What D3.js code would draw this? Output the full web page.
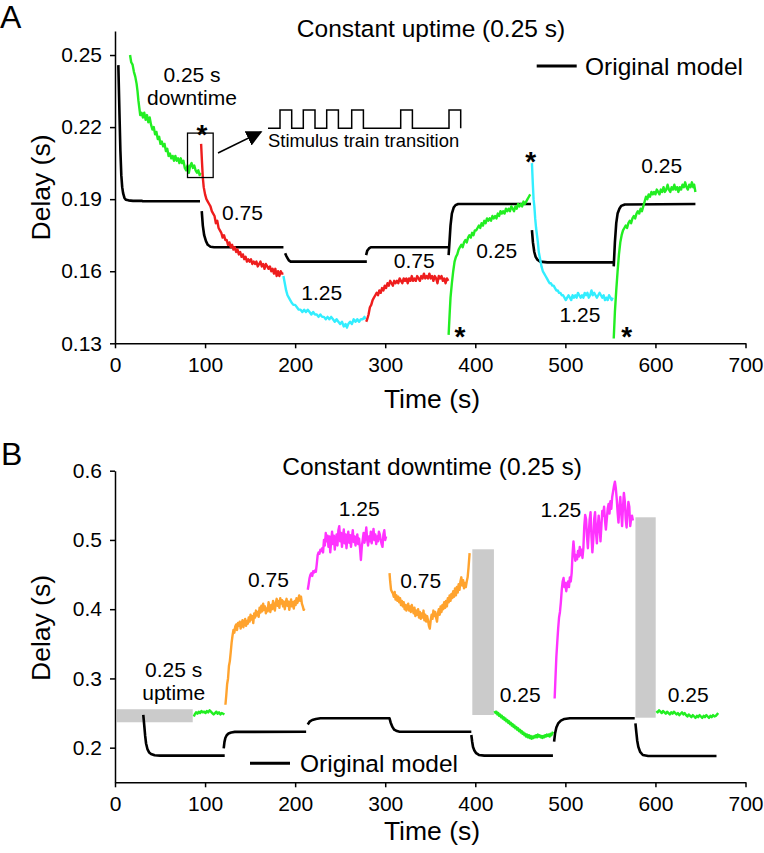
<!DOCTYPE html>
<html><head><meta charset="utf-8">
<script src="https://cdn.jsdelivr.net/npm/d3@7"></script>
<style>body{margin:0;background:#fff}svg{display:block}text{font-family:"Liberation Sans",Arial,sans-serif;fill:#000}</style>
</head><body><svg id="c" width="764" height="853"></svg>
<script>
// ---------- DATA ----------
const xTicks = [0,100,200,300,400,500,600,700];
const yTicksA = [0.13,0.16,0.19,0.22,0.25];
const yTicksB = [0.2,0.3,0.4,0.5,0.6];

// Panel A model (black)
const modelA1 = [[3.7,0.2458],[5,0.225],[6,0.210],[7,0.200],[8,0.195],[9,0.1925],[10.5,0.1905],[12,0.1898],[15,0.1895],[20,0.1893],[30,0.1893],[31,0.1891],[94.4,0.1891]];
const modelA2 = [[96.3,0.185],[97.5,0.179],[99,0.175],[101,0.1725],[103,0.171],[106,0.1702],[110,0.1700],[187,0.1700]];
const modelA3 = [[188.9,0.1675],[190,0.1665],[191.5,0.1655],[193,0.1645],[195,0.1640],[279.6,0.1640]];
const modelA4 = [[278.8,0.1667],[280,0.1685],[282,0.1695],[284,0.1700],[370.4,0.1700]];
const modelA5 = [[370.4,0.1667],[371.5,0.173],[372.5,0.179],[374,0.184],[376,0.1865],[378,0.1875],[381,0.188],[461.8,0.188]];
const modelA6 = [[462.9,0.1771],[464,0.172],[465.5,0.168],[467,0.166],[469,0.1648],[472,0.1640],[480,0.1637],[553.7,0.1637]];
const modelA7 = [[553.7,0.162],[555,0.172],[556.5,0.180],[558,0.184],[560,0.186],[562,0.1872],[566,0.1878],[644.4,0.1880]];

// Panel A measured data
const greenA1 = [[16.7,0.250],[18,0.247],[19.5,0.246],[21,0.243],[22.5,0.241],[24,0.238],[25,0.235],[26,0.231],[27,0.228],[28,0.225],[29.5,0.226],[31,0.224],[32.5,0.226],[34,0.223],[35.5,0.225],[37,0.222],[38.5,0.224],[40,0.221],[41.5,0.219],[43,0.220],[44.5,0.217],[46,0.218],[47.5,0.215],[49,0.216],[50.5,0.213],[52,0.214],[53.5,0.212],[55,0.213],[56.5,0.210],[58,0.211],[59.5,0.208],[61,0.209],[62.5,0.207],[64,0.208],[65.5,0.206],[67,0.208],[68.5,0.206],[70,0.207],[71.5,0.205],[73,0.207],[74.5,0.205],[76,0.206],[77.5,0.203],[79,0.202],[80.5,0.204],[82,0.201],[83.5,0.204],[85,0.205],[86.5,0.203],[88,0.204],[89.5,0.202],[91,0.201],[92.5,0.202],[94,0.200],[95,0.201]];
const redA2 = [[95.6,0.213],[96.5,0.206],[97.5,0.199],[98.5,0.195],[100,0.192],[101.5,0.190],[103,0.189],[104.5,0.188],[106,0.187],[107.5,0.185],[109,0.184],[110.5,0.183],[112,0.180],[113.5,0.181],[115,0.178],[116.5,0.177],[118,0.176],[119.5,0.174],[121,0.175],[122.5,0.173],[124,0.173],[125.5,0.171],[127,0.172],[128.5,0.170],[130,0.171],[131.5,0.169],[133,0.170],[134.5,0.168],[136,0.169],[137.5,0.167],[139,0.168],[140.5,0.166],[142,0.167],[143.5,0.165],[145,0.166],[146.5,0.164],[148,0.165],[149.5,0.164],[151,0.165],[152.5,0.163],[154,0.164],[155.5,0.163],[157,0.164],[158.5,0.162],[160,0.163],[161.5,0.164],[163,0.162],[164.5,0.163],[166,0.161],[167.5,0.163],[169,0.162],[170.5,0.161],[172,0.162],[173.5,0.160],[175,0.161],[176.5,0.159],[178,0.161],[179.5,0.158],[181,0.160],[182.5,0.158],[184,0.160],[185.5,0.159],[187,0.159]];
const cyanA3 = [[187,0.158],[188.5,0.155],[190,0.152],[191.5,0.150],[193,0.149],[194.5,0.148],[196,0.147],[198,0.146],[200,0.146],[202,0.145],[204,0.144],[206,0.144],[208,0.143],[210,0.144],[212,0.143],[214,0.144],[216,0.143],[218,0.142],[220,0.143],[222,0.142],[224,0.142],[226,0.141],[228,0.142],[230,0.141],[232,0.141],[234,0.140],[236,0.141],[238,0.140],[240,0.141],[242,0.140],[244,0.139],[246,0.140],[248,0.139],[250,0.138],[252,0.139],[254,0.137],[256,0.138],[257.5,0.1365],[259,0.138],[261,0.139],[263,0.138],[265,0.140],[267,0.139],[269,0.140],[271,0.139],[273,0.140],[275,0.140],[277,0.141],[278,0.140]];
const redA4 = [[278.9,0.139],[280,0.140],[281.5,0.142],[283,0.145],[284.5,0.146],[286,0.148],[287.5,0.149],[289,0.150],[290.5,0.151],[292,0.150],[293.5,0.152],[295,0.151],[296.5,0.153],[298,0.152],[299.5,0.154],[301,0.153],[302.5,0.155],[304,0.154],[305.5,0.156],[307,0.155],[308.5,0.154],[310,0.156],[311.5,0.155],[313,0.156],[314.5,0.155],[316,0.157],[317.5,0.156],[319,0.155],[320.5,0.157],[322,0.156],[323.5,0.157],[325,0.155],[326.5,0.157],[328,0.156],[329.5,0.158],[331,0.156],[332.5,0.157],[334,0.156],[335.5,0.158],[337,0.157],[338.5,0.156],[340,0.158],[341.5,0.157],[343,0.159],[344.5,0.157],[346,0.158],[347.5,0.157],[349,0.159],[350.5,0.157],[352,0.158],[353.5,0.156],[355,0.158],[356.5,0.157],[358,0.155],[359.5,0.158],[361,0.157],[362.5,0.158],[364,0.156],[365.5,0.157],[367,0.155],[368.5,0.157],[370,0.156]];
const greenA5 = [[370.4,0.1335],[371.5,0.142],[372.5,0.149],[374,0.155],[375.5,0.160],[377,0.164],[378.5,0.166],[380,0.167],[381.5,0.169],[383,0.170],[384.5,0.171],[386,0.170],[387.5,0.172],[389,0.173],[390.5,0.172],[392,0.174],[393.5,0.175],[395,0.174],[396.5,0.176],[398,0.175],[399.5,0.177],[401,0.177],[402.5,0.178],[404,0.179],[405.5,0.178],[407,0.180],[408.5,0.179],[410,0.181],[411.5,0.180],[413,0.182],[414.5,0.181],[416,0.182],[417.5,0.181],[419,0.183],[420.5,0.182],[422,0.183],[423.5,0.182],[425,0.184],[426.5,0.183],[428,0.185],[429.5,0.184],[431,0.185],[432.5,0.184],[434,0.186],[435.5,0.185],[437,0.186],[438.5,0.185],[440,0.187],[441.5,0.186],[443,0.185],[444.5,0.187],[446,0.186],[447.5,0.188],[449,0.187],[450.5,0.188],[452,0.187],[453.5,0.189],[455,0.188],[456.5,0.189],[458,0.190],[459.5,0.191],[461,0.192]];
const cyanA6 = [[462.9,0.205],[463.8,0.197],[464.7,0.190],[465.6,0.187],[466.5,0.182],[467.5,0.178],[468.5,0.175],[469.5,0.172],[470.5,0.168],[472,0.165],[473.5,0.162],[475,0.160],[476.5,0.159],[478,0.158],[479.5,0.157],[481,0.156],[482.5,0.155],[484,0.155],[485.5,0.154],[487,0.154],[488.5,0.153],[490,0.152],[491.5,0.152],[493,0.151],[494.5,0.151],[496,0.150],[497.5,0.150],[499,0.149],[500.5,0.148],[502,0.149],[503.5,0.150],[505,0.149],[506.5,0.148],[508,0.150],[509.5,0.149],[511,0.150],[512.5,0.149],[514,0.151],[515.5,0.150],[517,0.149],[518.5,0.150],[520,0.149],[521.5,0.151],[523,0.150],[524.5,0.151],[526,0.149],[527.5,0.150],[529,0.152],[530.5,0.150],[532,0.151],[533.5,0.150],[535,0.149],[536.5,0.150],[538,0.151],[539.5,0.150],[541,0.149],[542.5,0.150],[544,0.148],[545.5,0.149],[547,0.148],[548.5,0.150],[550,0.149],[551.5,0.148],[552.6,0.149]];
const greenA7 = [[553.7,0.132],[555,0.143],[556.5,0.152],[558,0.160],[559.5,0.167],[561,0.172],[562.5,0.175],[564,0.177],[565.5,0.178],[567,0.179],[568.5,0.178],[570,0.180],[571.5,0.181],[573,0.180],[574.5,0.182],[576,0.183],[577.5,0.182],[579,0.184],[580.5,0.185],[582,0.184],[583.5,0.186],[585,0.185],[586.5,0.187],[588,0.189],[589.5,0.191],[591,0.190],[592.5,0.192],[594,0.191],[595.5,0.193],[597,0.192],[598.5,0.193],[600,0.192],[601.5,0.194],[603,0.193],[604.5,0.192],[606,0.194],[607.5,0.193],[609,0.195],[610.5,0.193],[612,0.194],[613.5,0.196],[615,0.194],[616.5,0.193],[618,0.195],[619.5,0.194],[621,0.196],[622.5,0.194],[624,0.195],[625.5,0.193],[627,0.195],[628.5,0.194],[630,0.196],[631.5,0.195],[633,0.197],[634.5,0.195],[636,0.194],[637.5,0.196],[639,0.195],[640.5,0.197],[642,0.195],[643,0.196],[644.4,0.193]];

// Panel B model (black)
const modelB1 = [[31.4,0.2472],[32.5,0.232],[33.5,0.217],[34.5,0.206],[36,0.198],[38,0.193],[40,0.1909],[44,0.189],[50,0.1885],[121.8,0.1885]];
const modelB2 = [[120.7,0.199],[121.5,0.208],[122.5,0.214],[124,0.218],[126,0.2205],[129,0.222],[133,0.2228],[212.2,0.2231]];
const modelB3 = [[214,0.2335],[216,0.2375],[219,0.240],[223,0.2415],[228,0.2424],[304.8,0.2424],[306,0.2365],[308,0.230],[310,0.226],[313,0.224],[316,0.2231],[395.6,0.2231]];
const modelB4 = [[395.6,0.2183],[396.5,0.209],[397.5,0.201],[399,0.196],[401,0.192],[404,0.1895],[410,0.1885],[486.2,0.1885]];
const modelB5 = [[487.5,0.2087],[488.5,0.220],[490,0.229],[492,0.235],[495,0.239],[499,0.2415],[505,0.2424],[577,0.2424]];
const modelB6 = [[577.8,0.2352],[578.8,0.222],[579.8,0.210],[581,0.2014],[583,0.194],[586,0.1894],[592,0.188],[667.8,0.188]];

// Panel B grey rest blocks: [tStart, tEnd, vLow, vHigh]
const greyBlocksB = [[2,86.3,0.2367,0.2555],[396.7,420.7,0.2472,0.4865],[577.8,600.3,0.2433,0.5327]];

// Panel B measured data
const greenB1 = [[87.5,0.245],[88.5,0.248],[90,0.251],[91.5,0.249],[93,0.252],[94.5,0.250],[96,0.253],[97.5,0.251],[99,0.252],[100.5,0.250],[102,0.253],[103.5,0.251],[105,0.254],[106.5,0.252],[108,0.250],[109.5,0.248],[111,0.250],[112.5,0.252],[114,0.249],[115.5,0.251],[117,0.248],[118.5,0.250],[120,0.249],[121.5,0.248]];
const orangeB2 = [[122.6,0.262],[123.5,0.275],[124.5,0.292],[125.5,0.300],[126.5,0.318],[127.5,0.325],[128.5,0.338],[129.5,0.352],[130.5,0.362],[131.5,0.370],[132.5,0.366],[133.5,0.375],[134.5,0.378],[135.5,0.370],[136.5,0.380],[137.5,0.376],[138.5,0.382],[139.5,0.372],[140.5,0.378],[141.5,0.384],[142.5,0.374],[143.5,0.380],[144.5,0.386],[145.5,0.376],[146.5,0.383],[147.5,0.379],[148.5,0.388],[149.5,0.382],[150.5,0.392],[151.5,0.385],[152.5,0.390],[153.5,0.380],[154.5,0.394],[155.5,0.388],[156.5,0.398],[157.5,0.391],[158.5,0.396],[159.5,0.389],[160.5,0.402],[161.5,0.395],[162.5,0.405],[163.5,0.397],[164.5,0.408],[165.5,0.399],[166.5,0.404],[167.5,0.394],[168.5,0.401],[169.5,0.397],[170.5,0.410],[171.5,0.402],[172.5,0.396],[173.5,0.406],[174.5,0.400],[175.5,0.412],[176.5,0.404],[177.5,0.398],[178.5,0.409],[179.5,0.415],[180.5,0.405],[181.5,0.412],[182.5,0.402],[183.5,0.416],[184.5,0.408],[185.5,0.413],[186.5,0.404],[187.5,0.411],[188.5,0.400],[189.5,0.409],[190.5,0.415],[191.5,0.405],[192.5,0.411],[193.5,0.399],[194.5,0.408],[195.5,0.414],[196.5,0.404],[197.5,0.410],[198.5,0.401],[199.5,0.412],[200.5,0.406],[201.5,0.416],[202.5,0.409],[203.5,0.413],[204.5,0.420],[205.5,0.412],[206.5,0.418],[207.5,0.408],[208.5,0.404],[209.5,0.399],[210.3,0.401]];
const magentaB3 = [[214,0.428],[215,0.436],[216,0.445],[217,0.450],[218,0.452],[219,0.448],[220,0.455],[221,0.453],[222,0.456],[223,0.454],[224,0.465],[225,0.478],[226,0.482],[227,0.480],[228,0.486],[229,0.484],[230,0.488],[231,0.482],[232,0.500],[233,0.492],[234,0.510],[235,0.498],[236,0.506],[237,0.490],[238,0.505],[239,0.482],[240,0.498],[241,0.512],[242,0.494],[243,0.506],[244,0.486],[245,0.500],[246,0.508],[247,0.492],[248,0.514],[249,0.520],[250,0.498],[251,0.510],[252,0.490],[253,0.505],[254,0.515],[255,0.495],[256,0.508],[257,0.488],[258,0.502],[259,0.512],[260,0.496],[261,0.507],[262,0.490],[263,0.503],[264,0.514],[265,0.497],[266,0.505],[267,0.492],[268,0.500],[269,0.508],[270,0.494],[271,0.502],[272,0.488],[273,0.471],[274,0.490],[275,0.500],[276,0.510],[277,0.496],[278,0.506],[279,0.518],[280,0.500],[281,0.492],[282,0.505],[283,0.498],[284,0.512],[285,0.495],[286,0.504],[287,0.516],[288,0.500],[289,0.508],[290,0.494],[291,0.505],[292,0.498],[293,0.512],[294,0.508],[295,0.500],[296,0.494],[297,0.490],[298,0.508],[299,0.514],[300,0.500],[301,0.505]];
const orangeB4 = [[304.8,0.452],[305.5,0.440],[306.5,0.428],[307.5,0.425],[308.5,0.423],[309.5,0.418],[310.5,0.425],[311.5,0.414],[312.5,0.420],[313.5,0.412],[314.5,0.418],[315.5,0.410],[316.5,0.416],[317.5,0.406],[318.5,0.412],[319.5,0.404],[320.5,0.410],[321.5,0.400],[322.5,0.406],[323.5,0.398],[324.5,0.404],[325.5,0.408],[326.5,0.398],[327.5,0.404],[328.5,0.396],[329.5,0.406],[330.5,0.400],[331.5,0.394],[332.5,0.402],[333.5,0.390],[334.5,0.398],[335.5,0.392],[336.5,0.400],[337.5,0.388],[338.5,0.396],[339.5,0.386],[340.5,0.394],[341.5,0.388],[342.5,0.398],[343.5,0.384],[344.5,0.392],[345.5,0.382],[346.5,0.390],[347.5,0.384],[348.5,0.376],[349.5,0.372],[350.5,0.384],[351.5,0.392],[352.5,0.386],[353.5,0.398],[354.5,0.390],[355.5,0.396],[356.5,0.388],[357.5,0.382],[358.5,0.394],[359.5,0.400],[360.5,0.392],[361.5,0.404],[362.5,0.396],[363.5,0.406],[364.5,0.400],[365.5,0.410],[366.5,0.402],[367.5,0.412],[368.5,0.404],[369.5,0.416],[370.5,0.410],[371.5,0.420],[372.5,0.412],[373.5,0.422],[374.5,0.416],[375.5,0.426],[376.5,0.418],[377.5,0.430],[378.5,0.420],[379.5,0.432],[380.5,0.424],[381.5,0.436],[382.5,0.428],[383.5,0.440],[384.5,0.446],[385.5,0.434],[386.5,0.442],[387.5,0.430],[388.5,0.438],[389.5,0.432],[390.5,0.440],[391.5,0.446],[392.5,0.460],[393.7,0.481]];
const greenB5 = [[421.4,0.253],[422.5,0.250],[423.5,0.252],[424.5,0.248],[425.5,0.250],[426.5,0.246],[427.5,0.248],[428.5,0.244],[429.5,0.246],[430.5,0.242],[431.5,0.244],[432.5,0.240],[433.5,0.242],[434.5,0.238],[435.5,0.240],[436.5,0.236],[437.5,0.238],[438.5,0.234],[439.5,0.236],[440.5,0.232],[441.5,0.234],[442.5,0.230],[443.5,0.232],[444.5,0.228],[445.5,0.230],[446.5,0.226],[447.5,0.228],[448.5,0.224],[449.5,0.226],[450.5,0.222],[451.5,0.224],[452.5,0.220],[453.5,0.222],[454.5,0.218],[455.5,0.220],[456.5,0.216],[457.5,0.219],[458.5,0.215],[459.5,0.218],[460.5,0.214],[461.5,0.217],[462.5,0.213],[463.5,0.216],[464.5,0.214],[465.5,0.217],[466.5,0.215],[467.5,0.218],[468.5,0.215],[469.5,0.219],[470.5,0.216],[471.5,0.218],[472.5,0.215],[473.5,0.217],[474.5,0.214],[475.5,0.217],[476.5,0.215],[477.5,0.218],[478.5,0.216],[479.5,0.219],[480.5,0.217],[481.5,0.219],[482.5,0.216],[483.5,0.220],[484.5,0.218],[485.5,0.221],[486.3,0.223]];
const magentaB6 = [[488.1,0.271],[489,0.300],[490,0.331],[491,0.352],[492,0.372],[493,0.388],[494,0.396],[495,0.410],[496,0.428],[497,0.440],[498,0.445],[499,0.432],[500,0.438],[501,0.426],[502,0.436],[503,0.440],[504,0.432],[505,0.446],[506,0.440],[507,0.452],[508,0.480],[509,0.498],[510,0.482],[511,0.470],[512,0.478],[513,0.472],[514,0.484],[515,0.476],[516,0.490],[517,0.478],[518,0.486],[519,0.474],[520,0.488],[521,0.520],[522,0.536],[523,0.530],[524,0.505],[525,0.488],[526,0.510],[527,0.530],[528,0.540],[529,0.505],[530,0.482],[531,0.500],[532,0.530],[533,0.540],[534,0.510],[535,0.495],[536,0.520],[537,0.535],[538,0.518],[539,0.498],[540,0.520],[541,0.542],[542,0.535],[543,0.548],[544,0.528],[545,0.515],[546,0.530],[547,0.545],[548,0.552],[549,0.538],[550,0.556],[551,0.545],[552,0.562],[553,0.570],[554,0.578],[555,0.584],[556,0.575],[557,0.560],[558,0.540],[559,0.525],[560,0.548],[561,0.562],[562,0.540],[563,0.520],[564,0.548],[565,0.568],[566,0.556],[567,0.530],[568,0.518],[569,0.540],[570,0.555],[571,0.548],[572,0.520],[573,0.530],[574,0.535],[575,0.528]];
const greenB7 = [[601.1,0.253],[602.5,0.251],[604,0.254],[605.5,0.252],[607,0.250],[608.5,0.253],[610,0.251],[611.5,0.249],[613,0.252],[614.5,0.250],[616,0.248],[617.5,0.251],[619,0.249],[620.5,0.252],[622,0.250],[623.5,0.248],[625,0.250],[626.5,0.247],[628,0.249],[629.5,0.251],[631,0.248],[632.5,0.250],[634,0.247],[635.5,0.245],[637,0.248],[638.5,0.246],[640,0.244],[641.5,0.247],[643,0.245],[644.5,0.243],[646,0.246],[647.5,0.244],[649,0.247],[650.5,0.245],[652,0.243],[653.5,0.246],[655,0.244],[656.5,0.247],[658,0.245],[659.5,0.243],[661,0.246],[662.5,0.244],[664,0.247],[665.5,0.245],[667,0.246],[668.5,0.248],[669.6,0.250]];

// Annotation labels: [text, t, value at baseline]
const labelsA = [["0.75",141.6,0.1813],["1.25",229.5,0.148],["0.75",332.2,0.1612],["0.25",423.7,0.1654],["1.25",516.3,0.139],["0.25",607,0.2008],["0.25 s",85.5,0.2388],["downtime",85.5,0.2292]];
const starsA = [[96.6,0.2196],[461.4,0.2084],[383,0.1355],[568.1,0.1355]];
const labelsB = [["0.25 s",65.2,0.3025],["uptime",65.2,0.2689],["0.75",170.3,0.4325],["1.25",271.1,0.5346],["0.75",339.5,0.4302],["1.25",495,0.5336],["0.25",449.8,0.2664],["0.25",636.4,0.2664]];
const colors = {green:"#22ee22",red:"#ee1d1d",cyan:"#33eeff",orange:"#ffa32e",magenta:"#ff33ff",grey:"#cbcbcb"};

// ---------- DRAW ----------
const svg = d3.select("#c");
const FONT = '"Liberation Sans",Arial,sans-serif';

function panel(opt){
  const x = d3.scaleLinear().domain([0,700]).range([115,745.5]);
  const y = d3.scaleLinear().domain(opt.yDomain).range(opt.yRange);
  const g = svg.append("g");
  const line = d3.line().x(d=>x(d[0])).y(d=>y(d[1]));
  (opt.blocks||[]).forEach(b=>{
    g.append("rect").attr("x",x(b[0])).attr("width",x(b[1])-x(b[0]))
     .attr("y",y(b[3])).attr("height",y(b[2])-y(b[3])).attr("fill",colors.grey);
  });
  opt.series.forEach(s=>{
    g.append("path").datum(s.data).attr("d",line).attr("fill","none")
     .attr("stroke",s.color).attr("stroke-width",s.w).attr("stroke-linejoin","round");
  });
  const ax = g.append("g").attr("transform",`translate(0,${opt.yRange[0]})`)
    .call(d3.axisBottom(x).tickValues(xTicks).tickFormat(d3.format("d")).tickSize(5).tickSizeOuter(0).tickPadding(9));
  const ay = g.append("g").attr("transform",`translate(115,0)`)
    .call(d3.axisLeft(y).tickValues(opt.yTicks).tickFormat(opt.fmt).tickSize(5).tickSizeOuter(0).tickPadding(8));
  [ax,ay].forEach(a=>{
    a.selectAll("path,line").attr("stroke","#000").attr("stroke-width",1.5);
    a.selectAll("text").attr("font-size",21).attr("font-family",FONT).attr("fill","#000");
  });
  return {x,y,g};
}

// Panel A
const A = panel({yDomain:[0.13,0.26],yRange:[343.3,31],yTicks:yTicksA,fmt:d3.format(".2f"),
  series:[
    {data:modelA1,color:"#000",w:2.6},{data:modelA2,color:"#000",w:2.6},{data:modelA3,color:"#000",w:2.6},
    {data:modelA4,color:"#000",w:2.6},{data:modelA5,color:"#000",w:2.6},{data:modelA6,color:"#000",w:2.6},{data:modelA7,color:"#000",w:2.6},
    {data:greenA1,color:colors.green,w:2.4},{data:redA2,color:colors.red,w:2.4},{data:cyanA3,color:colors.cyan,w:2.4},
    {data:redA4,color:colors.red,w:2.4},{data:greenA5,color:colors.green,w:2.4},{data:cyanA6,color:colors.cyan,w:2.4},{data:greenA7,color:colors.green,w:2.4}
  ]});
labelsA.forEach(l=>{
  A.g.append("text").attr("x",A.x(l[1])).attr("y",A.y(l[2])).attr("text-anchor","middle")
   .attr("font-size",21).text(l[0]);
});
starsA.forEach(s=>{
  A.g.append("text").attr("x",A.x(s[0])).attr("y",A.y(s[1])).attr("text-anchor","middle")
   .attr("font-size",28).attr("font-weight","bold").attr("dy","0.57em").text("*");
});
A.g.append("rect").attr("x",A.x(80.5)).attr("y",A.y(0.2175)).attr("width",A.x(109)-A.x(80.5))
  .attr("height",A.y(0.199)-A.y(0.2175)).attr("fill","none").attr("stroke","#000").attr("stroke-width",1.3);
svg.append("defs").append("marker").attr("id","ah").attr("viewBox","0 0 10 10").attr("refX",9).attr("refY",5)
  .attr("markerWidth",16).attr("markerHeight",16).attr("markerUnits","userSpaceOnUse").attr("orient","auto")
  .append("path").attr("d","M0,0L10,5L0,10Z").attr("fill","#000");
A.g.append("line").attr("x1",218).attr("y1",153).attr("x2",261).attr("y2",132)
  .attr("stroke","#000").attr("stroke-width",1.5).attr("marker-end","url(#ah)");
(function(){
  const rises = [280,303.3,326.7,351.7,400.7,449];
  const width = 11.7, lo = 128.3, hi = 110;
  let p = "M268,"+lo;
  rises.forEach(r=>{ p += `L${r},${lo}L${r},${hi}L${r+width},${hi}L${r+width},${lo}`; });
  A.g.append("path").attr("d",p).attr("fill","none").attr("stroke","#000").attr("stroke-width",1.5);
  A.g.append("text").attr("x",268).attr("y",147).attr("font-size",18.4).text("Stimulus train transition");
})();
A.g.append("text").attr("x",431).attr("y",37).attr("text-anchor","middle").attr("font-size",24.5).text("Constant uptime (0.25 s)");
A.g.append("line").attr("x1",536.7).attr("x2",576.7).attr("y1",66).attr("y2",66).attr("stroke","#000").attr("stroke-width",3);
A.g.append("text").attr("x",585).attr("y",75).attr("font-size",24.5).text("Original model");
A.g.append("text").attr("transform","translate(50,187.5) rotate(-90)").attr("text-anchor","middle").attr("font-size",26.5).text("Delay (s)");
A.g.append("text").attr("x",432).attr("y",408).attr("text-anchor","middle").attr("font-size",26.5).text("Time (s)");
svg.append("text").attr("x",0).attr("y",28).attr("font-size",32).text("A");

// Panel B
const B = panel({yDomain:[0.15,0.6],yRange:[782.3,470.7],yTicks:yTicksB,fmt:d3.format(".1f"),blocks:greyBlocksB,
  series:[
    {data:modelB1,color:"#000",w:2.6},{data:modelB2,color:"#000",w:2.6},{data:modelB3,color:"#000",w:2.6},
    {data:modelB4,color:"#000",w:2.6},{data:modelB5,color:"#000",w:2.6},{data:modelB6,color:"#000",w:2.6},
    {data:greenB1,color:colors.green,w:2.4},{data:orangeB2,color:colors.orange,w:2.4},{data:magentaB3,color:colors.magenta,w:2.4},
    {data:orangeB4,color:colors.orange,w:2.4},{data:greenB5,color:colors.green,w:2.4},{data:magentaB6,color:colors.magenta,w:2.4},{data:greenB7,color:colors.green,w:2.4}
  ]});
labelsB.forEach(l=>{
  B.g.append("text").attr("x",B.x(l[1])).attr("y",B.y(l[2])).attr("text-anchor","middle")
   .attr("font-size",21).text(l[0]);
});
B.g.append("text").attr("x",432).attr("y",475).attr("text-anchor","middle").attr("font-size",24.5).text("Constant downtime (0.25 s)");
B.g.append("line").attr("x1",250).attr("x2",290).attr("y1",763.3).attr("y2",763.3).attr("stroke","#000").attr("stroke-width",3);
B.g.append("text").attr("x",300).attr("y",772).attr("font-size",24.5).text("Original model");
B.g.append("text").attr("transform","translate(50,628) rotate(-90)").attr("text-anchor","middle").attr("font-size",26.5).text("Delay (s)");
B.g.append("text").attr("x",432).attr("y",840).attr("text-anchor","middle").attr("font-size",26.5).text("Time (s)");
svg.append("text").attr("x",1).attr("y",465).attr("font-size",32).text("B");
</script></body></html>
